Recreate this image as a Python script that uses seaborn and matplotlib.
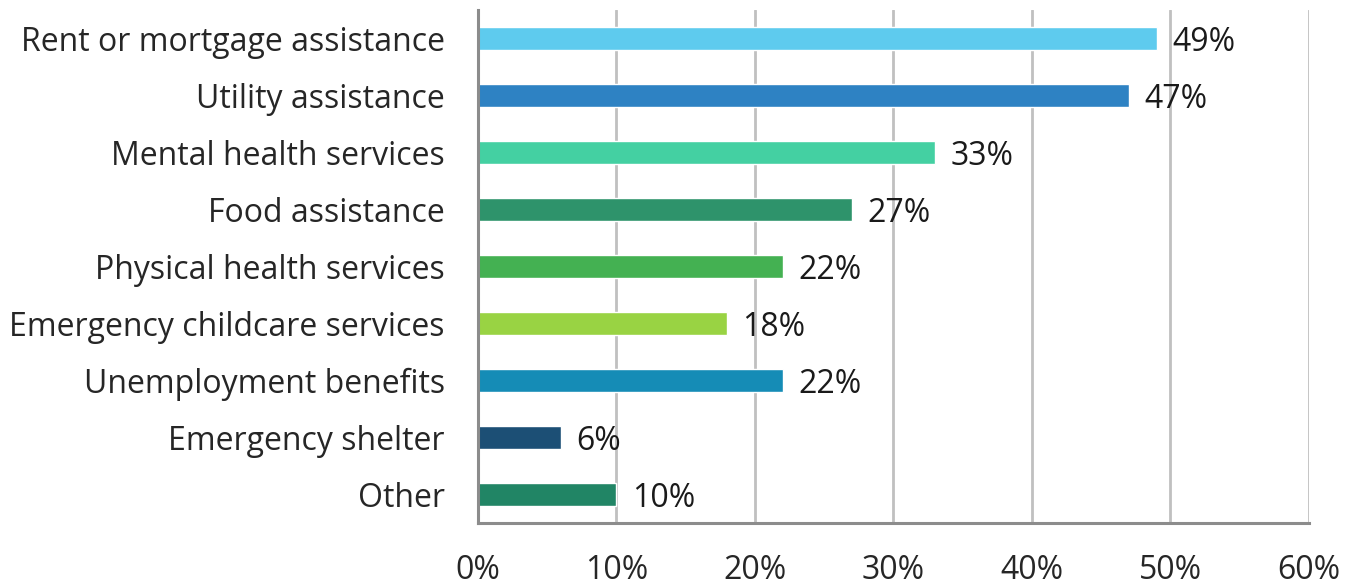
import matplotlib
matplotlib.use("Agg")
import matplotlib.pyplot as plt
import seaborn as sns
import pandas as pd

categories = ["Rent or mortgage assistance", "Utility assistance", "Mental health services",
              "Food assistance", "Physical health services", "Emergency childcare services",
              "Unemployment benefits", "Emergency shelter", "Other"]
values = [49, 47, 33, 27, 22, 18, 22, 6, 10]
colors = ["#5ECBEE", "#2E82C3", "#44D0A2", "#2E936B", "#44B152", "#99D343",
          "#158CB6", "#1C4F75", "#218565"]
xticks = [0, 10, 20, 30, 40, 50, 60]
xticklabels = ["0%", "10%", "20%", "30%", "40%", "50%", "60%"]

sns.set_theme(style="white")
plt.rcParams['font.family'] = ['Open Sans', 'DejaVu Sans']

df = pd.DataFrame({"cat": categories, "val": values})

fig = plt.figure(figsize=(13.56, 5.87), dpi=100)
ax = fig.add_axes([0.3525, 0.109, 0.6128, 0.874])

sns.barplot(data=df, y="cat", x="val", hue="cat", palette=colors, orient="h",
            width=0.4, legend=False, ax=ax, saturation=1)

ax.set_xlim(0, 60)
ax.set_ylim(8.5, -0.5)
ax.set_xticks(xticks)
ax.set_xticklabels(xticklabels)
ax.set_xlabel("")
ax.set_ylabel("")
ax.xaxis.grid(True, color="#C0C0C0", linewidth=2)
ax.set_axisbelow(True)
for s in ["top", "right"]:
    ax.spines[s].set_visible(False)
for s in ["left", "bottom"]:
    ax.spines[s].set_color("#8C8C8C")
    ax.spines[s].set_linewidth(2.2)
ax.tick_params(axis="y", length=0, pad=24, labelsize=23, labelcolor="#262626")
ax.tick_params(axis="x", length=0, pad=22, labelsize=23, labelcolor="#262626")

for i, v in enumerate(values):
    ax.annotate(f"{v}%", xy=(v, i), xytext=(11, -3), textcoords="offset points",
                va="center", ha="left", fontsize=23, color="#1A1A1A")

fig.savefig("out.png", dpi=100)
